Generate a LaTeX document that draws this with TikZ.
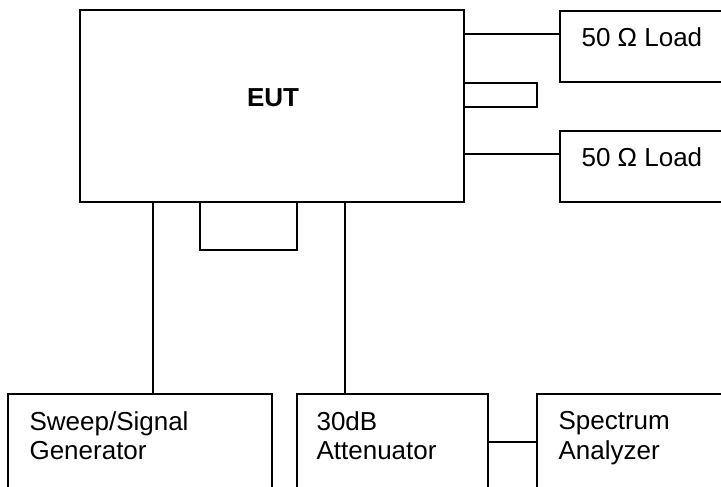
\documentclass[tikz,border=0pt]{standalone}
\usepackage{fontspec}
\setmainfont{Liberation Sans}
\usetikzlibrary{positioning}

\begin{document}
\begin{tikzpicture}[
    x=1pt, y=-1pt,
    font=\fontsize{26pt}{29.5pt}\selectfont,
    unitBox/.style={
        rectangle,
        draw=black,
        line width=1.3pt,
        inner sep=0pt
    },
    boxText/.style={
        anchor=north west,
        inner sep=0pt,
        align=left
    },
    wireLine/.style={
        draw=black,
        line width=1.3pt
    }
]
\useasboundingbox (0,0) rectangle (721,487);
\clip (0,0) rectangle (721,487);

% ==================== EUT ====================
\node[unitBox, minimum width=384pt, minimum height=192pt] (eut) at (272,106) {};
\node[font=\fontsize{26pt}{29.5pt}\selectfont\bfseries] (eutText) at (273,98) {EUT};

% ==================== LOADS ====================
\node[unitBox, minimum width=220pt, minimum height=71pt] (loadTop) at (670,46.5) {};
\node[unitBox, minimum width=220pt, minimum height=71pt] (loadBot) at (670,166.5) {};
\node[boxText] (loadTopText) at ([xshift=22pt, yshift=-17pt]loadTop.north west) {50 Ω Load};
\node[boxText] (loadBotText) at ([xshift=22pt, yshift=-17pt]loadBot.north west) {50 Ω Load};

\draw[wireLine] (eut.east |- 0,34) -- (loadTop.west |- 0,34);
\draw[wireLine] (eut.east |- 0,154) -- (loadBot.west |- 0,154);

% open stubs
\draw[wireLine] (eut.east |- 0,83) -- (537,83) -- (537,107) -- (eut.east |- 0,107);
\draw[wireLine] (eut.south -| 200,0) -- (200,250) -- (297,250) -- (eut.south -| 297,0);

% ==================== INSTRUMENTS ====================
\node[unitBox, minimum width=264pt, minimum height=146pt] (sweepGen) at (140,467) {};
\node[unitBox, minimum width=191pt, minimum height=146pt] (atten) at (392.5,467) {};
\node[unitBox, minimum width=243pt, minimum height=146pt] (specAn) at (658.5,467) {};
\node[boxText] (sweepGenText) at ([xshift=22pt, yshift=-18pt]sweepGen.north west) {Sweep/Signal\\Generator};
\node[boxText] (attenText) at ([xshift=20pt, yshift=-18pt]atten.north west) {30dB\\Attenuator};
\node[boxText] (specAnText) at ([xshift=22pt, yshift=-18pt]specAn.north west) {Spectrum\\Analyzer};

\draw[wireLine] (eut.south -| 153,0) -- (sweepGen.north -| 153,0);
\draw[wireLine] (eut.south -| 345,0) -- (atten.north -| 345,0);
\draw[wireLine] (atten.east |- 0,442) -- (specAn.west |- 0,442);

\end{tikzpicture}
\end{document}
